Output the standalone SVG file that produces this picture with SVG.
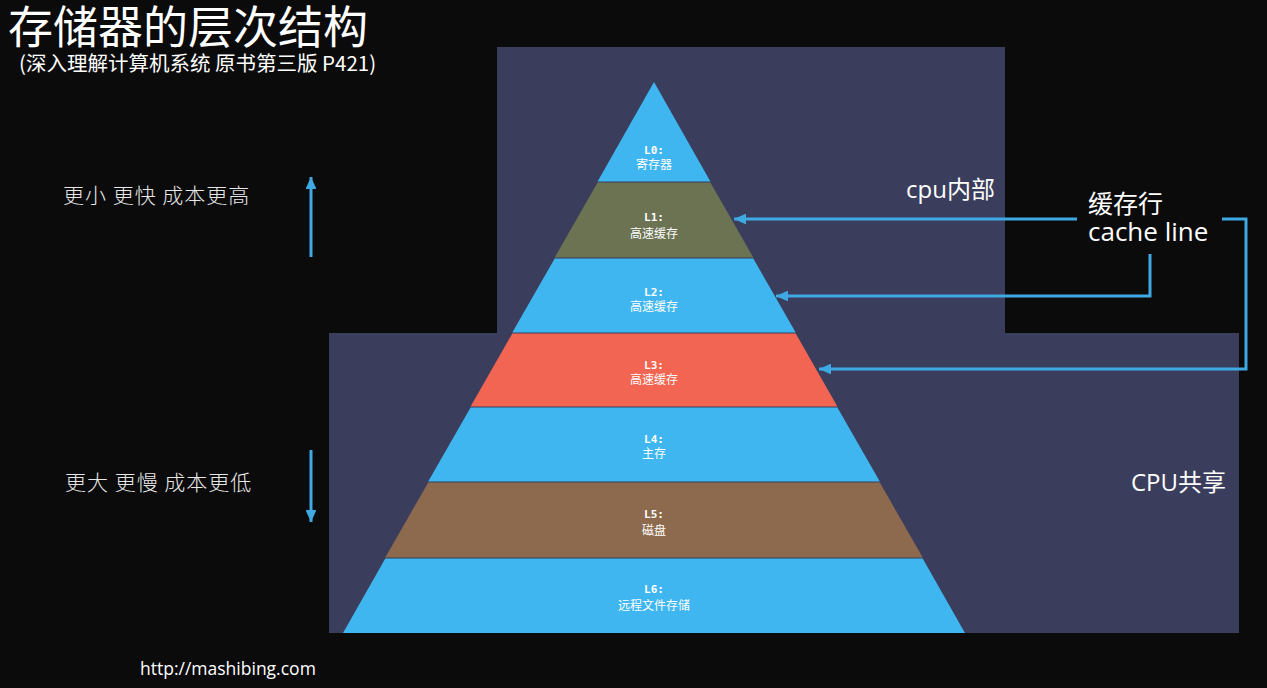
<svg xmlns="http://www.w3.org/2000/svg" width="1267" height="688" viewBox="0 0 1267 688">
<defs>
<style>
.title{font-family:"Noto Sans CJK SC","Noto Sans",sans-serif;fill:#fff}
.lv{font-family:"DejaVu Sans Mono",monospace;font-weight:bold;font-size:11px;fill:#fff;text-anchor:middle}
.zh{font-family:"Noto Sans CJK SC",sans-serif;font-size:12px;fill:#fff;text-anchor:middle}
.side{font-family:"Noto Sans CJK SC",sans-serif;font-size:21px;fill:#e8e8e8;font-weight:300;letter-spacing:1px}
.lab{font-family:"Open Sans","Noto Sans CJK SC",sans-serif;fill:#fff}
.conn{fill:none;stroke:#3ea9e3;stroke-width:3}
.panel{fill:#3a3e5c}
.blue{fill:#3fb6ef}
</style>
<marker id="ah" viewBox="0 0 10 10" refX="10" refY="5" markerWidth="4" markerHeight="3.6" orient="auto" preserveAspectRatio="none">
<path d="M0,0 L10,5 L0,10 Z" fill="#3ea9e3"/>
</marker>
</defs>
<rect width="1267" height="688" fill="#0b0b0b"/>
<g id="panels">
<rect class="panel" x="497" y="47" width="508" height="286"/>
<rect class="panel" x="329" y="333" width="910" height="300"/>
</g>
<g id="title">
<text class="title" x="8" y="44" font-size="45">存储器的层次结构</text>
<text class="title" x="19" y="71" font-size="20.5">(深入理解计算机系统 原书第三版 P421)</text>
</g>
<g id="L0">
<polygon class="blue" points="654,82 597.6,181.5 710.4,181.5"/>
<text class="lv" x="654" y="154">L0:</text>
<text class="zh" x="654" y="169">寄存器</text>
</g>
<g id="L1">
<polygon fill="#6b7352" points="597.6,182.5 710.4,182.5 753.3,257.5 554.7,257.5"/>
<text class="lv" x="654" y="221">L1:</text>
<text class="zh" x="654" y="238">高速缓存</text>
</g>
<g id="L2">
<polygon class="blue" points="554.7,258.5 753.3,258.5 795.7,332.5 512.3,332.5"/>
<text class="lv" x="654" y="296">L2:</text>
<text class="zh" x="654" y="311">高速缓存</text>
</g>
<g id="L3">
<polygon fill="#f26552" points="512.3,333.5 795.7,333.5 837.4,406.5 470.6,406.5"/>
<text class="lv" x="654" y="369">L3:</text>
<text class="zh" x="654" y="384">高速缓存</text>
</g>
<g id="L4">
<polygon class="blue" points="470.6,407.5 837.4,407.5 879.8,481.5 428.2,481.5"/>
<text class="lv" x="654" y="443">L4:</text>
<text class="zh" x="654" y="458">主存</text>
</g>
<g id="L5">
<polygon fill="#8d6a4d" points="428.2,482.5 879.8,482.5 922.7,557.5 385.3,557.5"/>
<text class="lv" x="654" y="518">L5:</text>
<text class="zh" x="654" y="535">磁盘</text>
</g>
<g id="L6">
<polygon class="blue" points="385.3,558.5 922.7,558.5 965,633 343,633"/>
<text class="lv" x="654" y="593">L6:</text>
<text class="zh" x="654" y="610">远程文件存储</text>
</g>
<g id="side-labels">
<text class="side" x="63" y="203">更小 更快 成本更高</text>
<text class="side" x="65" y="490">更大 更慢 成本更低</text>
</g>
<g id="region-labels">
<text class="lab" x="906" y="198" font-size="24">cpu内部</text>
<text class="lab" x="1131" y="491" font-size="24">CPU共享</text>
</g>
<g id="cacheline">
<text class="lab" x="1088" y="213" font-size="25">缓存行</text>
<text class="lab" x="1088" y="241" font-size="26">cache line</text>
</g>
<g id="url">
<text class="lab" x="140" y="675" font-size="17.5">http://mashibing.com</text>
</g>
<g id="connectors">
<line class="conn" x1="311" y1="257" x2="311" y2="177" marker-end="url(#ah)"/>
<line class="conn" x1="311" y1="450" x2="311" y2="522" marker-end="url(#ah)"/>
<path class="conn" d="M1077,219 H734" marker-end="url(#ah)"/>
<path class="conn" d="M1150,254 V296 H776" marker-end="url(#ah)"/>
<path class="conn" d="M1222,219 H1246 V369 H819" marker-end="url(#ah)"/>
</g>
</svg>
